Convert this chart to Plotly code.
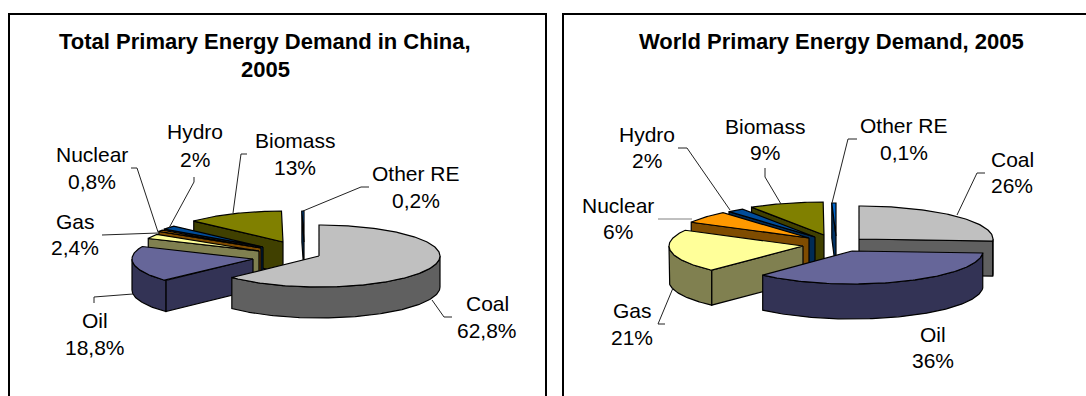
import numpy as np
import plotly.graph_objects as go

categories = ["Coal", "Oil", "Gas", "Nuclear", "Hydro", "Biomass", "Other RE"]
china_values = [62.8, 18.8, 2.4, 0.8, 2.0, 13.0, 0.2]
world_values = [26.0, 36.0, 21.0, 6.0, 2.0, 9.0, 0.1]
china_labels = ["62,8%", "18,8%", "2,4%", "0,8%", "2%", "13%", "0,2%"]
world_labels = ["26%", "36%", "21%", "6%", "2%", "9%", "0,1%"]

top_colors = ["#C0C0C0", "#666699", "#FFFF99", "#FF9900", "#004C99", "#808000", "#0066CC"]
side_colors = ["#606060", "#333355", "#808050", "#7F4C00", "#002B55", "#404000", "#003366"]

# Layout of the two charts, in page pixels (axes are page-sized)
charts = [
    dict(values=china_values, labels=china_labels, rx=[121] * 7, ry=31, depth=31, min_sweep=1.0,
         apex=[(319, 256), (253, 259), (259, 251), (261, 248), (263, 247), (283, 242), (304, 242)],
         order=[6, 5, 4, 3, 2, 1, 0],
         label_xy=[(487, 304, 331), (95, 321, 348), (75, 222, 248), (92, 155, 182),
                   (195, 132, 160), (295, 141, 168), (416, 174, 201)],
         leaders=[[(452, 317), (444, 317), (432, 300)], [(94, 303), (94, 297), (133, 294)],
                  [(102, 235), (158, 233)], [(131, 168), (137, 168), (158, 232)],
                  [(194, 177), (194, 182), (169, 228)], [(247, 154), (241, 154), (233, 213)],
                  [(369, 187), (361, 187), (303, 211)]],
         leader_colors=["#222222"] * 7),
    dict(values=world_values, labels=world_labels, rx=[134, 131, 134, 134, 134, 134, 134],
         ry=33, depth=35, min_sweep=1.8,
         apex=[(859, 239), (852, 251), (803, 246), (809, 238), (815, 237), (824, 235), (836, 236)],
         order=[0, 6, 5, 4, 3, 2, 1],
         label_xy=[(1012, 160, 186), (933, 335, 361), (632, 311, 338), (618, 206, 232),
                   (647, 135, 161), (765, 127, 153), (904, 126, 153)],
         leaders=[[(985, 173), (977, 173), (957, 215)], [],
                  [(665, 324), (658, 324), (673, 288)], [(658, 219), (692, 219)],
                  [(678, 148), (687, 148), (730, 210)], [(765, 168), (765, 177), (781, 204)],
                  [(857, 139), (848, 139), (832, 203)]],
         leader_colors=["#222222", "#222222", "#222222", "#808080", "#222222", "#222222", "#222222"]),
]
titles = [("Total Primary Energy Demand in China,", 265, 41), ("2005", 265, 69),
          ("World Primary Energy Demand, 2005", 831, 41)]
frames = [[(9, 396), (9, 14), (546, 14), (546, 396)],
          [(563, 396), (563, 14), (1086, 14)]]

FONT = "Liberation Sans, Arial, sans-serif"
fig = go.Figure()


def rim(cx, cy, rx, ry, a, b, drop=0.0):
    t = np.radians(np.linspace(a, b, max(2, int(abs(b - a)) + 2)))
    return cx + rx * np.sin(t), cy - ry * np.cos(t) + drop


def poly(xs, ys, color, name):
    fig.add_trace(go.Scatter(x=list(xs) + [xs[0]], y=list(ys) + [ys[0]], mode="lines", fill="toself",
                             fillcolor=color, line=dict(color="black", width=1.2),
                             name=name, hoverinfo="name", showlegend=False))


for chart in charts:
    vals = np.array(chart["values"], dtype=float)
    edges = np.concatenate([[0.0], np.cumsum(vals / vals.sum() * 360.0)])
    ry, d = chart["ry"], chart["depth"]
    for i in chart["order"]:
        a, b = edges[i], edges[i + 1]
        if b - a < chart["min_sweep"]:
            a = b - chart["min_sweep"]
        cx, cy = chart["apex"][i]
        rx = chart["rx"][i]
        name = categories[i]
        # radial faces that look towards the viewer
        for ang, visible in ((a, np.sin(np.radians(a)) < -1e-6), (b, np.sin(np.radians(b)) > 1e-6)):
            if visible:
                px, py = rim(cx, cy, rx, ry, ang, ang)
                poly([cx, px[0], px[0], cx], [cy, py[0], py[0] + d, cy + d], side_colors[i], name)
        # outer wall
        wa, wb = max(a, 90.0), min(b, 270.0)
        if wb > wa:
            tx, ty = rim(cx, cy, rx, ry, wa, wb)
            bx, by = rim(cx, cy, rx, ry, wb, wa, d)
            poly(np.concatenate([tx, bx]), np.concatenate([ty, by]), side_colors[i], name)
        # top face
        tx, ty = rim(cx, cy, rx, ry, a, b)
        poly(np.concatenate([[cx], tx]), np.concatenate([[cy], ty]), top_colors[i], name)

    for i, pts in enumerate(chart["leaders"]):
        if pts:
            fig.add_trace(go.Scatter(x=[p[0] for p in pts], y=[p[1] for p in pts], mode="lines",
                                     line=dict(color=chart["leader_colors"][i], width=1),
                                     hoverinfo="skip", showlegend=False))
    for i, (x, y1, y2) in enumerate(chart["label_xy"]):
        for txt, y in ((categories[i], y1), (chart["labels"][i], y2)):
            fig.add_annotation(x=x, y=y, yshift=1, text=txt, showarrow=False, xanchor="center", yanchor="middle",
                               font=dict(family=FONT, size=21, color="black"))

for pts in frames:
    fig.add_trace(go.Scatter(x=[p[0] for p in pts], y=[p[1] for p in pts], mode="lines",
                             line=dict(color="black", width=2), hoverinfo="skip", showlegend=False))
for txt, x, y in titles:
    fig.add_annotation(x=x, y=y, text="<b>%s</b>" % txt, showarrow=False, xanchor="center", yanchor="middle",
                       font=dict(family=FONT, size=22, color="black"))

fig.update_layout(width=1086, height=396, margin=dict(l=0, r=0, t=0, b=0),
                  paper_bgcolor="white", plot_bgcolor="white", showlegend=False,
                  xaxis=dict(range=[0, 1086], visible=False, fixedrange=True),
                  yaxis=dict(range=[396, 0], visible=False, fixedrange=True))
fig.write_html("out.html", config=dict(displayModeBar=False),
               post_script="document.body.style.margin='0';document.body.style.overflow='hidden';")
